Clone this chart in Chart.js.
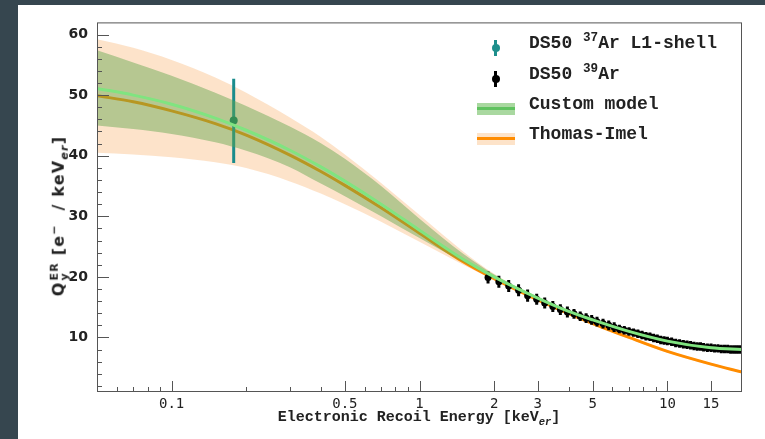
<!DOCTYPE html>
<html lang="en">
<head>
    <meta charset="UTF-8">
    <title>Electron recoil charge yield</title>
    <style>
        /* Page layout: dark frame around a white panel */
        body {
            margin: 0;
            background: #36464f;
            width: 765px;
            height: 439px;
            overflow: hidden;
        }
        .panel {
            position: absolute;
            left: 18px;
            top: 5px;
            width: 747px;
            height: 434px;
            background: #fff;
        }
        .panel canvas {
            position: absolute;
            left: 0;
            top: 0;
        }
        .y-title {
            position: absolute;
            left: 41px;
            top: 211px;
            transform: translate(-50%, -50%) rotate(-90deg);
            white-space: nowrap;
            font: bold 16px "DejaVu Sans", sans-serif;
            letter-spacing: 1.2px;
            color: #222;
        }
        .y-title .ss {
            display: inline-block;
            vertical-align: middle;
            font-size: 11px;
            line-height: 10px;
            margin-left: 1px;
        }
        .x-title {
            position: absolute;
            left: 401px;
            top: 412px;
            transform: translate(-50%, -50%);
            white-space: nowrap;
            font: bold 15px "Liberation Mono", monospace;
            color: #222;
        }
        sub, sup { font-size: 70%; line-height: 0; }
        .legend .row {
            position: absolute;
            left: 459px;
            width: 270px;
            height: 30px;
        }
        .legend .txt {
            position: absolute;
            left: 52px;
            top: 0;
            line-height: 30px;
            white-space: nowrap;
            font: bold 18px "Liberation Mono", monospace;
            color: #222;
        }
        .legend .bar {
            position: absolute;
            left: 17px;
            top: 7px;
            width: 3px;
            height: 16px;
        }
        .legend .dot {
            position: absolute;
            left: 15px;
            top: 11px;
            width: 8px;
            height: 8px;
            border-radius: 50%;
        }
        .legend .band {
            position: absolute;
            left: 0;
            top: 9px;
            width: 38px;
            height: 12px;
        }
        .legend .line {
            position: absolute;
            left: 0;
            top: 13px;
            width: 38px;
            height: 3px;
        }
    </style>
</head>
<body>
<div class="panel">
    <canvas id="chart" width="747" height="434"></canvas>

    <div class="y-title">Q<span class="ss">ER<br>y</span> [e<sup>&minus;</sup>&nbsp;&nbsp;/ keV<sub><i>er</i></sub>]</div>
    <div class="x-title">Electronic Recoil Energy [keV<sub><i>er</i></sub>]</div>

    <!-- Legend -->
    <div class="legend">
        <div class="row" style="top:28px">
            <span class="bar" style="background:#1e8f8c"></span>
            <span class="dot" style="background:#1e8f8c"></span>
            <span class="txt">DS50 <sup>37</sup>Ar L1-shell</span>
        </div>
        <div class="row" style="top:59px">
            <span class="bar" style="background:#000"></span>
            <span class="dot" style="background:#000"></span>
            <span class="txt">DS50 <sup>39</sup>Ar</span>
        </div>
        <div class="row" style="top:89px">
            <span class="band" style="background:#a9d8a0"></span>
            <span class="line" style="background:#5fc25f"></span>
            <span class="txt">Custom model</span>
        </div>
        <div class="row" style="top:119px">
            <span class="band" style="background:#fde3c9"></span>
            <span class="line" style="background:#ff8c00"></span>
            <span class="txt">Thomas-Imel</span>
        </div>
    </div>
</div>

<script src="https://cdn.jsdelivr.net/npm/chart.js"></script>
<script>
    // Energy grid of the model curves [keV_er]
    const modelE = [0.05, 0.07, 0.1, 0.15, 0.2, 0.3, 0.4, 0.5, 0.7, 1, 1.5, 2, 3, 4, 5, 7, 10, 15, 20];

    // Custom model: central value and band
    const customQ  = [51.1, 50.0, 48.5, 46.2, 44.2, 40.9, 38.15, 35.8, 32.0, 27.7, 22.9, 20.0, 16.5, 14.3, 12.9, 11.0, 9.4, 8.3, 8.0];
    const customHi = [57.4, 55.4, 53.2, 50.4, 48.2, 44.8, 42.05, 39.5, 35.0, 29.6, 23.8, 20.4, 16.7, 14.5, 13.1, 11.2, 9.6, 8.5, 8.2];
    const customLo = [45.0, 44.4, 43.6, 42.2, 40.8, 38.1, 35.4, 33.3, 30.0, 26.4, 22.4, 19.7, 16.3, 14.1, 12.7, 10.8, 9.2, 8.1, 7.8];

    // Thomas-Imel: central value and band
    const thomasQ  = [49.9, 48.9, 47.4, 45.3, 43.4, 40.1, 37.4, 35.1, 31.4, 27.2, 22.5, 19.7, 16.2, 13.95, 12.3, 10.0, 7.7, 5.6, 4.3];
    const thomasHi = [59.2, 57.8, 55.8, 52.9, 50.4, 46.3, 43.1, 40.2, 35.5, 30.2, 24.2, 20.5, 16.4, 14.15, 12.5, 10.2, 7.9, 5.8, 4.5];
    const thomasLo = [40.5, 40.2, 39.75, 38.9, 37.95, 35.75, 33.75, 32.0, 29.1, 25.8, 22.0, 19.5, 16.0, 13.75, 12.1, 9.8, 7.5, 5.4, 4.1];

    // DS50 37Ar L1-shell point
    const ar37E  = [0.178];
    const ar37Q  = [45.8];
    const ar37Lo = [38.8];
    const ar37Hi = [52.7];

    // DS50 39Ar spectrum points
    const ar39E = [1.89, 2.09, 2.29, 2.51, 2.73, 2.97, 3.2, 3.45, 3.7, 3.95, 4.2, 4.45, 4.7, 4.95, 5.2, 5.5, 5.8, 6.1,
                   6.4, 6.7, 7.0, 7.3, 7.6, 7.9, 8.2, 8.5, 8.8, 9.1, 9.4, 9.7, 10.0, 10.4, 10.8, 11.2, 11.6, 12.0,
                   12.4, 12.8, 13.2, 13.6, 14.0, 14.5, 15.0, 15.5, 16.0, 16.5, 17.0, 17.5, 18.0, 18.5, 19.0, 19.5, 20.0];
    const ar39Q = [19.9, 19.2, 18.5, 17.8, 16.9, 16.3, 15.7, 15.1, 14.6, 14.2, 13.9, 13.5, 13.2, 12.9, 12.6, 12.3, 12.0, 11.7,
                   11.4, 11.2, 11.0, 10.8, 10.6, 10.4, 10.2, 10.1, 9.9, 9.8, 9.6, 9.5, 9.4, 9.3, 9.1, 9.0, 8.9, 8.8,
                   8.7, 8.6, 8.5, 8.5, 8.4, 8.3, 8.3, 8.2, 8.2, 8.1, 8.1, 8.1, 8.0, 8.0, 8.0, 8.0, 8.0];
    const ar39Err = [1.0, 1.0, 1.0, 1.0, 1.0, 0.9, 0.9, 0.9, 0.9, 0.9, 0.8, 0.8, 0.8, 0.8, 0.8, 0.8, 0.8, 0.8,
                     0.7, 0.7, 0.7, 0.7, 0.7, 0.7, 0.7, 0.7, 0.7, 0.7, 0.7, 0.7, 0.7, 0.7, 0.7, 0.7, 0.7, 0.7,
                     0.7, 0.7, 0.7, 0.7, 0.7, 0.7, 0.7, 0.7, 0.7, 0.7, 0.7, 0.7, 0.7, 0.7, 0.7, 0.7, 0.7];

    // Axis ticks
    const xTickValues = [0.1, 0.5, 1, 2, 3, 5, 10, 15];
    const xTickLabels = ['0.1', '0.5', '1', '2', '3', '5', '10', '15'];
    const xMinorTicks = [0.06, 0.07, 0.08, 0.09, 0.2, 0.3, 0.4, 0.6, 0.7, 0.8, 0.9, 4, 6, 7, 8, 9];
    const yTickValues = [10, 20, 30, 40, 50, 60];
    const yMinorTicks = [2, 4, 6, 8, 12, 14, 16, 18, 22, 24, 26, 28, 32, 34, 36, 38, 42, 44, 46, 48, 52, 54, 56, 58];

    const pts = (xs, ys) => xs.map((x, i) => ({ x: x, y: ys[i] }));

    // Vertical error bars, drawn just before the dataset's markers
    const errorBars = {
        id: 'errorBars',
        beforeDatasetDraw(chart, args) {
            const ds = chart.data.datasets[args.index];
            if (!ds.errLo) return;
            const xs = chart.scales.x, ys = chart.scales.y, ctx = chart.ctx;
            ctx.save();
            ctx.beginPath();
            ctx.rect(chart.chartArea.left, chart.chartArea.top, chart.chartArea.width, chart.chartArea.height);
            ctx.clip();
            ctx.strokeStyle = ds.errColor;
            ctx.lineWidth = ds.errWidth;
            ds.data.forEach((p, i) => {
                const px = xs.getPixelForValue(p.x);
                ctx.beginPath();
                ctx.moveTo(px, ys.getPixelForValue(ds.errLo[i]));
                ctx.lineTo(px, ys.getPixelForValue(ds.errHi[i]));
                ctx.stroke();
            });
            ctx.restore();
        }
    };

    // Frame and inward ticks (ROOT style)
    const frameTicks = {
        id: 'frameTicks',
        afterDraw(chart) {
            const { left, right, top, bottom } = chart.chartArea;
            const xs = chart.scales.x, ys = chart.scales.y, ctx = chart.ctx;
            ctx.save();
            ctx.strokeStyle = '#555';
            ctx.lineWidth = 1;
            ctx.strokeRect(left + 0.5, top + 0.5, right - left - 1, bottom - top - 1);
            ctx.beginPath();
            yTickValues.forEach(v => {
                const py = Math.round(ys.getPixelForValue(v)) + 0.5;
                ctx.moveTo(left, py); ctx.lineTo(left + 12, py);
            });
            yMinorTicks.forEach(v => {
                const py = Math.round(ys.getPixelForValue(v)) + 0.5;
                ctx.moveTo(left, py); ctx.lineTo(left + 5, py);
            });
            xTickValues.forEach(v => {
                const px = Math.round(xs.getPixelForValue(v)) + 0.5;
                ctx.moveTo(px, bottom); ctx.lineTo(px, bottom - 11);
            });
            xMinorTicks.forEach(v => {
                const px = Math.round(xs.getPixelForValue(v)) + 0.5;
                ctx.moveTo(px, bottom); ctx.lineTo(px, bottom - 5);
            });
            ctx.stroke();
            ctx.restore();
        }
    };

    const curve = { pointRadius: 0, cubicInterpolationMode: 'monotone' };

    new Chart(document.getElementById('chart'), {
        type: 'line',
        data: {
            datasets: [
                // 0,1: Thomas-Imel band
                { ...curve, data: pts(modelE, thomasHi), borderWidth: 0, fill: 1,
                  backgroundColor: 'rgba(252,200,150,0.5)', order: 10 },
                { ...curve, data: pts(modelE, thomasLo), borderWidth: 0, fill: false, order: 10 },
                // 2: Thomas-Imel line
                { ...curve, data: pts(modelE, thomasQ), borderColor: '#ff8c00', borderWidth: 3, fill: false, order: 8 },
                // 3: DS50 39Ar
                { data: pts(ar39E, ar39Q), showLine: false, pointRadius: 3.5, pointBackgroundColor: '#000',
                  pointBorderWidth: 0, errLo: ar39Q.map((q, i) => q - ar39Err[i]), errHi: ar39Q.map((q, i) => q + ar39Err[i]),
                  errColor: '#000', errWidth: 3, order: 6 },
                // 4: DS50 37Ar
                { data: pts(ar37E, ar37Q), showLine: false, pointRadius: 4, pointBackgroundColor: '#127a5a',
                  pointBorderWidth: 0, errLo: ar37Lo, errHi: ar37Hi, errColor: '#1a8c8c', errWidth: 3, order: 6 },
                // 5,6: Custom model band
                { ...curve, data: pts(modelE, customHi), borderWidth: 0, fill: 6,
                  backgroundColor: 'rgba(95,165,75,0.45)', order: 4 },
                { ...curve, data: pts(modelE, customLo), borderWidth: 0, fill: false, order: 4 },
                // 7: Custom model line
                { ...curve, data: pts(modelE, customQ), borderColor: '#80e480', borderWidth: 3, fill: false, order: 1 }
            ]
        },
        options: {
            responsive: false,
            animation: false,
            devicePixelRatio: 1,
            layout: { padding: { top: 17, right: 23, left: 0, bottom: 0 } },
            plugins: {
                legend: { display: false },
                tooltip: { enabled: false }
            },
            scales: {
                x: {
                    type: 'logarithmic',
                    min: 0.05,
                    max: 20,
                    afterBuildTicks: s => { s.ticks = xTickValues.map(v => ({ value: v })); },
                    afterFit: s => { s.height = 47; },
                    grid: { display: false, drawTicks: false },
                    border: { display: false },
                    ticks: {
                        autoSkip: false,
                        maxRotation: 0,
                        padding: 4,
                        color: '#222',
                        font: { family: 'DejaVu Sans Mono', size: 14 },
                        callback: (v, i) => xTickLabels[i]
                    }
                },
                y: {
                    min: 1,
                    max: 62,
                    afterBuildTicks: s => { s.ticks = yTickValues.map(v => ({ value: v })); },
                    afterFit: s => { s.width = 79; },
                    grid: { display: false, drawTicks: false },
                    border: { display: false },
                    ticks: {
                        padding: 9,
                        color: '#222',
                        font: { family: 'DejaVu Sans', size: 14, weight: 'bold' }
                    }
                }
            }
        },
        plugins: [errorBars, frameTicks]
    });
</script>
</body>
</html>
